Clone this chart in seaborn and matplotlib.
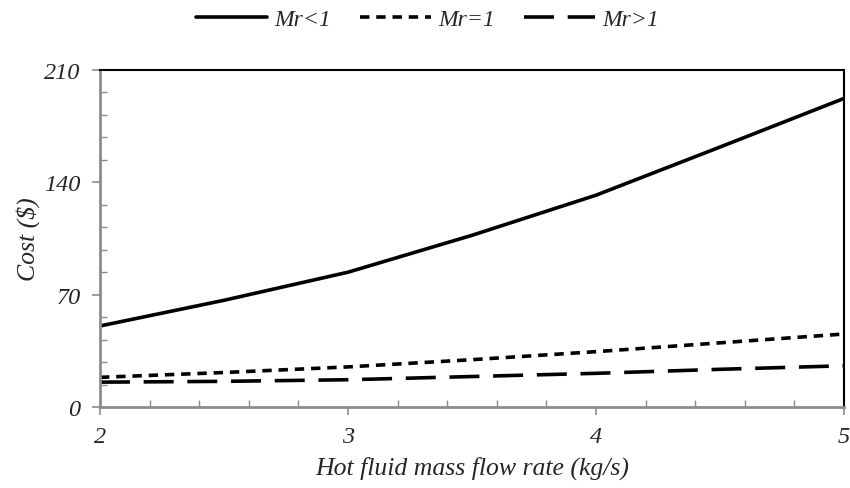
import matplotlib
matplotlib.use("Agg")
import matplotlib.pyplot as plt
from matplotlib.ticker import MultipleLocator
import seaborn as sns
import pandas as pd

# Hot fluid mass flow rate (kg/s)
flow_rate = [2.0, 2.5, 3.0, 3.5, 4.0, 4.5, 5.0]
# Cost ($) for each mass-ratio regime
cost_mr_lt1 = [50.5, 66.5, 84.0, 107.0, 132.0, 162.0, 192.3]
cost_mr_eq1 = [18.5, 21.5, 25.0, 29.5, 34.5, 40.0, 45.5]
cost_mr_gt1 = [15.5, 16.0, 17.0, 19.0, 21.0, 23.5, 25.7]
series_labels = ["Mr<1", "Mr=1", "Mr>1"]
y_ticks = [0, 70, 140, 210]
x_ticks = [2, 3, 4, 5]

sns.set_theme(style="white")
plt.rcParams["font.family"] = ["Liberation Serif", "DejaVu Serif"]
plt.rcParams["font.style"] = "italic"

df = pd.DataFrame({
    "flow": flow_rate * 3,
    "cost": cost_mr_lt1 + cost_mr_eq1 + cost_mr_gt1,
    "regime": [series_labels[0]] * len(flow_rate)
    + [series_labels[1]] * len(flow_rate)
    + [series_labels[2]] * len(flow_rate),
})

fig = plt.figure(figsize=(8.5, 4.89), dpi=100)
ax = fig.add_axes([0.1176, 0.1656, 0.8754, 0.6892])

sns.lineplot(
    data=df, x="flow", y="cost", hue="regime", style="regime",
    palette=["black", "black", "black"],
    dashes={"Mr<1": "", "Mr=1": (2.6, 1.9), "Mr>1": (8.3, 3.8)},
    linewidth=2.6, ax=ax, legend=True,
)

ax.set_xlim(2, 5)
ax.set_ylim(0, 210)
ax.set_xticks(x_ticks)
ax.set_yticks(y_ticks)
ax.xaxis.set_minor_locator(MultipleLocator(0.2))
ax.yaxis.set_minor_locator(MultipleLocator(14))
ax.tick_params(axis="both", which="major", direction="out", length=6,
               width=1.2, color="#8c8c8c", labelsize=17.5,
               bottom=True, left=True)
ax.tick_params(axis="x", which="major", pad=8)
ax.tick_params(axis="y", which="major", pad=8)
ax.tick_params(axis="both", which="minor", direction="in", length=5,
               width=1.0, color="#8c8c8c", bottom=True, left=True)
for lab in ax.get_xticklabels() + ax.get_yticklabels():
    lab.set_fontstyle("italic")

for side in ("left", "bottom"):
    ax.spines[side].set_color("#8c8c8c")
    ax.spines[side].set_linewidth(2.0)
for side in ("top", "right"):
    ax.spines[side].set_color("black")
    ax.spines[side].set_linewidth(1.5)
    ax.spines[side].set_visible(True)

ax.set_xlabel("Hot fluid mass flow rate (kg/s)", fontsize=18.5,
              fontstyle="italic", labelpad=6)
ax.set_ylabel("Cost ($)", fontsize=18.5, fontstyle="italic", labelpad=3)

handles, labels = ax.get_legend_handles_labels()
ax.legend_.remove()
fig.legend(handles, labels, loc="center", bbox_to_anchor=(0.503, 0.958),
           ncol=3, frameon=False, handlelength=3.0,
           columnspacing=1.25, handletextpad=0.3,
           prop={"style": "italic", "size": 17})

fig.savefig("out.png", dpi=100)
